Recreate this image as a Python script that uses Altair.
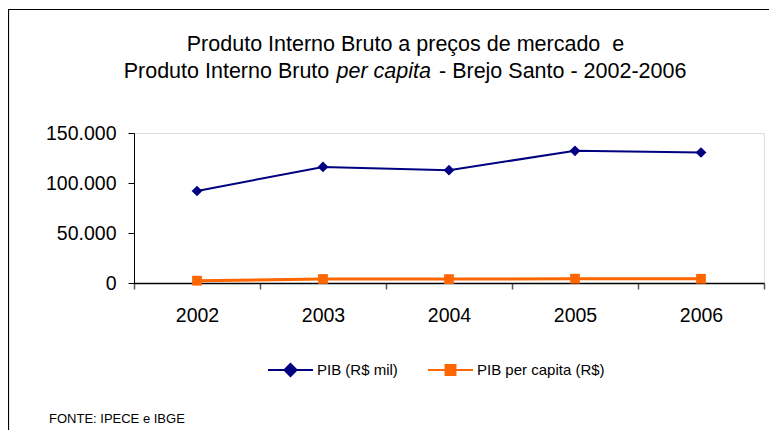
import altair as alt
import pandas as pd

# ---------------- data ----------------
anos = ["2002", "2003", "2004", "2005", "2006"]
pib_mil = [92000, 116100, 112800, 132200, 130500]
pib_per_capita = [2300, 4000, 3900, 4300, 4200]
serie_pib = "PIB (R$ mil)"
serie_pc = "PIB per capita (R$)"
y_ticks = [0, 50000, 100000, 150000]

titulo_l1 = ["Produto Interno Bruto a preços de mercado\u00a0 e"]
titulo_l2 = ["Produto Interno Bruto", "per capita", "- Brejo Santo - 2002-2006"]
fonte = ["FONTE: IPECE e IBGE"]

NAVY = "#000080"
ORANGE = "#FF6600"
FONT = "Liberation Sans"

df = pd.DataFrame({
    "ano": anos * 2,
    "valor": pib_mil + pib_per_capita,
    "serie": [serie_pib] * len(anos) + [serie_pc] * len(anos),
})

W, H = 630, 150

base = alt.Chart(df).encode(
    x=alt.X("ano:O", title=None,
            scale=alt.Scale(type="band", paddingInner=0, paddingOuter=0),
            axis=alt.Axis(labelAngle=0, labelFont=FONT, labelFontSize=19.5, labelColor="black",
                          labelPadding=17, tickSize=6, tickColor="#555555", tickWidth=1.5,
                          tickBand="extent", domainColor="black", domainWidth=1.5, grid=False)),
    y=alt.Y("valor:Q", title=None,
            scale=alt.Scale(domain=[0, 150000], nice=False),
            axis=alt.Axis(values=y_ticks, labelFont=FONT, labelFontSize=19.5, labelColor="black",
                          labelPadding=12, tickSize=6, tickColor="black", domainColor="black",
                          grid=False,
                          labelExpr="replace(format(datum.value, ','), ',', '.')")),
)

PATH_DIAMOND = "M-1,0L1,0M0,-0.27L0.27,0L0,0.27L-0.27,0Z"
PATH_SQUARE = "M-1,0L1,0M-0.22,-0.22L0.22,-0.22L0.22,0.22L-0.22,0.22Z"


def serie_layer(name, color, shape, size, stroke_w, path, lx, ly):
    sub = base.transform_filter(alt.datum.serie == name)
    line = sub.mark_line(color=color, strokeWidth=stroke_w)
    pts = sub.mark_point(filled=True, opacity=1, shape=shape, size=size).encode(
        color=alt.Color("serie:N",
                        scale=alt.Scale(domain=[name], range=[color]),
                        legend=alt.Legend(title=None, orient="none", legendX=lx, legendY=ly,
                                          symbolType=path, symbolSize=2025,
                                          symbolStrokeColor=color, symbolFillColor=color,
                                          symbolStrokeWidth=2, symbolOpacity=1,
                                          labelFont=FONT, labelFontSize=15, labelColor="black",
                                          labelOffset=3, padding=0))
    )
    return alt.layer(line, pts)


s1 = serie_layer(serie_pib, NAVY, "diamond", 115, 2, PATH_DIAMOND, 133, 213.5)
s2 = serie_layer(serie_pc, ORANGE, "square", 95, 3, PATH_SQUARE, 293, 213.5)

one = alt.Data(values=[{"k": 0}])

t1 = alt.Chart(one).mark_text(text=titulo_l1[0], font=FONT, fontSize=21.5, align="center",
                              baseline="alphabetic", color="black").encode(
    x=alt.value(271.5), y=alt.value(-81.8))
t2a = alt.Chart(one).mark_text(text=titulo_l2[0], font=FONT, fontSize=21.5, align="left",
                               baseline="alphabetic", color="black").encode(
    x=alt.value(-10.3), y=alt.value(-55))
t2b = alt.Chart(one).mark_text(text=titulo_l2[1], font=FONT, fontSize=21.5, fontStyle="italic",
                               align="left", baseline="alphabetic", color="black").encode(
    x=alt.value(202.5), y=alt.value(-55))
t2c = alt.Chart(one).mark_text(text=titulo_l2[2], font=FONT, fontSize=21.5, align="left",
                               baseline="alphabetic", color="black").encode(
    x=alt.value(305), y=alt.value(-55))
src = alt.Chart(one).mark_text(text=fonte[0], font=FONT, fontSize=13, align="left",
                               baseline="alphabetic", color="black").encode(
    x=alt.value(-85), y=alt.value(289.5))

# outer chart frame: only its left and top edges are visible, as in the reference
frame_v = alt.Chart(one).mark_rule(color="black", strokeWidth=1.2).encode(
    x=alt.value(-125.5), y=alt.value(-123.5), y2=alt.value(297))
frame_h = alt.Chart(one).mark_rule(color="black", strokeWidth=1.2).encode(
    x=alt.value(-126), x2=alt.value(635), y=alt.value(-123.5))

chart = alt.layer(
    frame_v, frame_h, t1, t2a, t2b, t2c, src, s1, s2
).resolve_scale(color="independent").properties(
    width=W, height=H,
    autosize=alt.AutoSizeParams(type="none"),
    padding={"left": 126, "top": 125, "right": 5, "bottom": 147},
).configure_view(stroke=None).configure(background="white")

chart.save("out.html", embed_options={"renderer": "svg", "actions": False})
